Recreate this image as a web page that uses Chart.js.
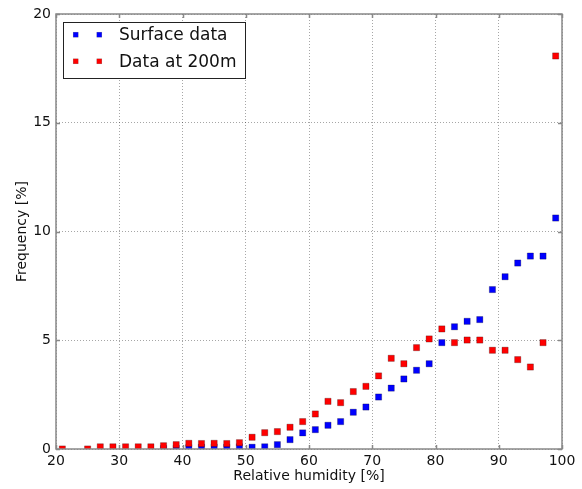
<!DOCTYPE html>
<html>
<head>
<meta charset="utf-8">
<script src="https://cdn.jsdelivr.net/npm/chart.js@4"></script>
<style>
html,body{margin:0;padding:0;background:#fff;}
#wrap{width:582px;height:489px;position:relative;}
</style>
</head>
<body>
<div id="wrap"><canvas id="c" width="582" height="489"></canvas></div>
<script>
const humidity = [21,23,25,27,29,31,33,35,37,39,41,43,45,47,49,51,53,55,57,59,61,63,65,67,69,71,73,75,77,79,81,83,85,87,89,91,93,95,97,99];
const surfaceData = [null,null,null,null,null,null,null,null,0.02,0.03,0.06,0.08,0.09,0.08,0.10,0.08,0.10,0.20,0.43,0.74,0.89,1.09,1.26,1.69,1.93,2.39,2.80,3.22,3.62,3.92,4.89,5.62,5.87,5.95,7.33,7.92,8.55,8.87,8.87,10.62];
const data200m = [0.0,null,0.0,0.10,0.10,0.10,0.10,0.10,0.15,0.20,0.26,0.25,0.26,0.25,0.29,0.54,0.75,0.80,1.00,1.26,1.61,2.19,2.13,2.64,2.88,3.36,4.17,3.92,4.66,5.06,5.52,4.89,5.01,5.01,4.54,4.54,4.11,3.77,4.89,18.07];
const seriesLabels = ["Surface data","Data at 200m"];
const xTicks = [20,30,40,50,60,70,80,90,100];
const yTicks = [0,5,10,15,20];

const FONT = "'DejaVu Sans', sans-serif";
const toPts = (arr) => humidity.map((h,i)=>({x:h,y:arr[i]})).filter(p=>p.y!==null);

const frameColor = '#888';

const framePlugin = {
  id:'frame',
  afterDraw(chart){
    const {ctx, chartArea:a, scales} = chart;
    ctx.save();
    ctx.strokeStyle = frameColor;
    ctx.lineWidth = 1.5;
    ctx.beginPath();
    xTicks.forEach(v=>{
      const px = Math.round(scales.x.getPixelForValue(v))+0.5;
      ctx.moveTo(px,a.bottom); ctx.lineTo(px,a.bottom-4);
      ctx.moveTo(px,a.top); ctx.lineTo(px,a.top+4);
    });
    yTicks.forEach(v=>{
      const py = Math.round(scales.y.getPixelForValue(v))+0.5;
      ctx.moveTo(a.left,py); ctx.lineTo(a.left+4,py);
      ctx.moveTo(a.right,py); ctx.lineTo(a.right-4,py);
    });
    ctx.stroke();
    ctx.strokeRect(a.left, a.top, a.right-a.left, a.bottom-a.top);
    // legend
    const bx=63.5, by=22.5, bw=182, bh=56;
    ctx.fillStyle='#fff';
    ctx.fillRect(bx,by,bw,bh);
    ctx.strokeStyle='#222';
    ctx.lineWidth=1;
    ctx.strokeRect(bx,by,bw,bh);
    const rows=[34.7,61.3];
    chart.data.datasets.forEach((ds,i)=>{
      const y=rows[i];
      [75.7,99.3].forEach(mx=>{
        ctx.fillStyle=ds.backgroundColor;
        ctx.fillRect(mx-2.5,y-2.5,5,5);
        ctx.strokeStyle='rgba(0,0,0,0.3)';
        ctx.lineWidth=0.5;
        ctx.strokeRect(mx-2.5,y-2.5,5,5);
      });
      ctx.fillStyle='#111';
      ctx.font='17px '+FONT;
      ctx.textBaseline='middle';
      ctx.textAlign='left';
      ctx.fillText(ds.label,119,y+1);
    });
    ctx.restore();
  }
};

new Chart(document.getElementById('c'),{
  type:'scatter',
  data:{
    datasets:[
      {label:seriesLabels[0],data:toPts(surfaceData),backgroundColor:'#0000ff',borderColor:'rgba(0,0,0,0.3)',borderWidth:0.8,pointStyle:'rect',pointRadius:4.4,order:1,clip:0},
      {label:seriesLabels[1],data:toPts(data200m),backgroundColor:'#ff0000',borderColor:'rgba(0,0,0,0.3)',borderWidth:0.8,pointStyle:'rect',pointRadius:4.4,order:0,clip:0}
    ]
  },
  options:{
    responsive:false,
    animation:false,
    layout:{padding:{left:0,top:14,right:20,bottom:0}},
    plugins:{legend:{display:false},tooltip:{enabled:false}},
    scales:{
      x:{
        type:'linear',min:20,max:100,
        afterBuildTicks(s){s.ticks=xTicks.map(v=>({value:v}));},
        afterFit(s){s.height=40;},
        ticks:{color:'#111',font:{family:FONT,size:14},padding:4,maxRotation:0},
        grid:{color:'rgba(0,0,0,0.35)',lineWidth:1,drawTicks:false},
        border:{display:false,dash:[1,2]},
        title:{display:true,text:'Relative humidity [%]',color:'#111',font:{family:FONT,size:14},padding:{top:0,bottom:4}}
      },
      y:{
        type:'linear',min:0,max:20,
        afterBuildTicks(s){s.ticks=yTicks.map(v=>({value:v}));},
        afterFit(s){s.width=56;},
        ticks:{color:'#111',font:{family:FONT,size:14},padding:5},
        grid:{color:'rgba(0,0,0,0.35)',lineWidth:1,drawTicks:false},
        border:{display:false,dash:[1,2]},
        title:{display:true,text:'Frequency [%]',color:'#111',font:{family:FONT,size:14},padding:{top:14,bottom:0}}
      }
    }
  },
  plugins:[framePlugin]
});
</script>
</body>
</html>
